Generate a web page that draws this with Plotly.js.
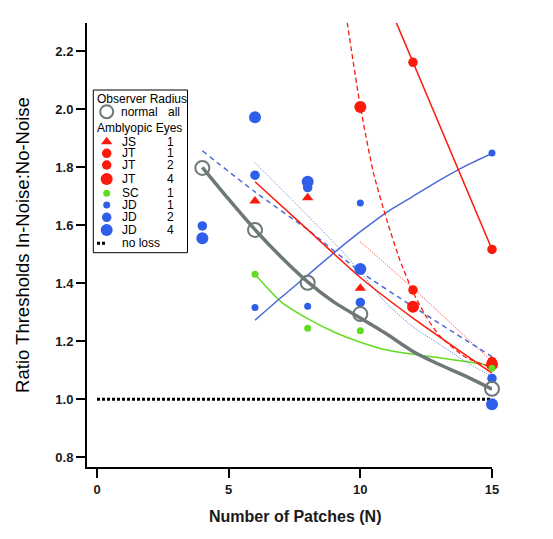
<!DOCTYPE html>
<html>
<head>
<meta charset="utf-8">
<script src="https://cdn.plot.ly/plotly-3.0.1.min.js"></script>
<style>
  html, body { margin: 0; padding: 0; background: #ffffff; }
  #chart { width: 553px; height: 539px; }
</style>
</head>
<body>
<div id="chart"></div>
<script>
// ---------- data ----------
const normalN = [4, 6, 8, 10, 15];
const normalRatio = [1.798, 1.584, 1.402, 1.294, 1.036];
const normalFitN = [4, 5, 6, 7, 8, 9, 10, 11, 12, 13, 14, 15];
const normalFitRatio = [1.80, 1.69, 1.585, 1.49, 1.405, 1.335, 1.28, 1.225, 1.165, 1.12, 1.08, 1.035];

const jsN = [6, 8, 10];
const jsRatio = [1.684, 1.695, 1.383];
const jsFitN = [6, 8, 10, 12, 15];
const jsFitRatio = [1.75, 1.585, 1.42, 1.28, 1.09];

const jt1N = [12, 15];
const jt1Ratio = [2.162, 1.517];
const jt1FitN = [11.3, 15];
const jt1FitRatio = [2.313, 1.517];

const jt2N = [12, 15];
const jt2Ratio = [1.377, 1.13];
const jt2FitN = [10, 12, 15];
const jt2FitRatio = [1.543, 1.383, 1.13];

const jt4N = [10, 12, 15];
const jt4Ratio = [2.008, 1.319, 1.12];
const jt4FitN = [9.5, 10, 10.5, 11, 11.5, 12, 12.5, 13, 14, 15];
const jt4FitRatio = [2.30, 2.01, 1.78, 1.62, 1.48, 1.37, 1.285, 1.22, 1.145, 1.11];

const scN = [6, 8, 10, 15];
const scRatio = [1.431, 1.245, 1.236, 1.107];
const scFitN = [6, 7, 8, 9, 10, 11, 12, 13, 14, 15];
const scFitRatio = [1.431, 1.335, 1.278, 1.232, 1.197, 1.17, 1.155, 1.143, 1.13, 1.115];

const jd1N = [6, 8, 10, 15];
const jd1Ratio = [1.317, 1.321, 1.677, 1.849];
const jd1FitN = [6, 7, 8, 9, 10, 11, 12, 13, 14, 15];
const jd1FitRatio = [1.273, 1.352, 1.428, 1.505, 1.578, 1.645, 1.70, 1.755, 1.805, 1.848];

const jd2N = [4, 6, 8, 10, 15];
const jd2Ratio = [1.598, 1.773, 1.73, 1.334, 1.072];
const jd2FitN = [4, 6, 8, 10, 12, 15];
const jd2FitRatio = [1.857, 1.715, 1.585, 1.44, 1.32, 1.147];

const jd4N = [4, 6, 8, 10, 15];
const jd4Ratio = [1.555, 1.973, 1.75, 1.449, 0.983];
const jd4FitN = [6, 8, 9, 10, 11, 12, 13, 14, 15];
const jd4FitRatio = [1.816, 1.633, 1.54, 1.44, 1.33, 1.25, 1.19, 1.13, 1.078];

const noLossN = [0, 15];
const noLossRatio = [1.0, 1.0];

const xTicks = [0, 5, 10, 15];
const yTicks = [0.8, 1.0, 1.2, 1.4, 1.6, 1.8, 2.0, 2.2];

const legendNames = ['JS', 'JT', 'JT', 'JT', 'SC', 'JD', 'JD', 'JD'];
const legendNums = ['1', '1', '2', '4', '1', '1', '2', '4'];

// ---------- styles ----------
const RED = '#fb1a0c';
const BLUE = '#2f5fe8';
const BLUE_LINE = '#4a6ad8';
const GREEN = '#62dc1e';
const GRAY = '#6f7878';
const FONT = 'Liberation Sans, Arial, Helvetica, sans-serif';

// marker styles for each amblyopic series, in legend order
const seriesStyle = [
  { x: jsN,  y: jsRatio,  color: RED,   size: 10, symbol: 'triangle-up' },
  { x: jt1N, y: jt1Ratio, color: RED,   size: 9.5, symbol: 'circle' },
  { x: jt2N, y: jt2Ratio, color: RED,   size: 9.5, symbol: 'circle' },
  { x: jt4N, y: jt4Ratio, color: RED,   size: 12, symbol: 'circle' },
  { x: scN,  y: scRatio,  color: GREEN, size: 7,  symbol: 'circle' },
  { x: jd1N, y: jd1Ratio, color: BLUE,  size: 7,  symbol: 'circle' },
  { x: jd2N, y: jd2Ratio, color: BLUE,  size: 9.5, symbol: 'circle' },
  { x: jd4N, y: jd4Ratio, color: BLUE,  size: 12, symbol: 'circle' }
];

const fitLines = [
  { x: scFitN,  y: scFitRatio,  color: GREEN,     width: 1.5, dash: 'solid' },
  { x: jd1FitN, y: jd1FitRatio, color: BLUE_LINE, width: 1.5, dash: 'solid' },
  { x: jd2FitN, y: jd2FitRatio, color: BLUE_LINE, width: 1.5, dash: '5px,4px' },
  { x: jd4FitN, y: jd4FitRatio, color: BLUE_LINE, width: 1,   dash: '1px,1.5px' },
  { x: jt2FitN, y: jt2FitRatio, color: RED,       width: 1,   dash: '1px,1.5px' },
  { x: jt4FitN, y: jt4FitRatio, color: RED,       width: 1.3, dash: '5px,3px' },
  { x: jt1FitN, y: jt1FitRatio, color: RED,       width: 1.5, dash: 'solid' },
  { x: jsFitN,  y: jsFitRatio,  color: RED,       width: 1.5, dash: 'solid' },
  { x: normalFitN, y: normalFitRatio, color: GRAY, width: 3.5, dash: 'solid' }
];

const traces = [];

// no loss reference line
traces.push({
  x: noLossN, y: noLossRatio, type: 'scatter', mode: 'lines',
  line: { color: '#000000', width: 3, dash: '3px,2px' }, hoverinfo: 'skip'
});

fitLines.forEach(f => traces.push({
  x: f.x, y: f.y, type: 'scatter', mode: 'lines',
  line: { color: f.color, width: f.width, dash: f.dash, shape: 'spline', smoothing: 0.6 },
  hoverinfo: 'skip'
}));

seriesStyle.forEach(s => traces.push({
  x: s.x, y: s.y, type: 'scatter', mode: 'markers', cliponaxis: false,
  marker: { color: s.color, size: s.size, symbol: s.symbol, opacity: 1, line: { width: 0 } }
}));

traces.push({
  x: normalN, y: normalRatio, type: 'scatter', mode: 'markers', cliponaxis: false,
  marker: { symbol: 'circle-open', size: 14, color: GRAY, opacity: 1, line: { color: GRAY, width: 2 } }
});

// ---------- custom legend (pixel-space overlay axes) ----------
const legRowY = [141.7, 153.3, 165, 179, 193.3, 205, 217.3, 230];
const legSymX = 106.7, legNameX = 121, legNumX = 170;

traces.push({
  x: legRowY.map(() => legSymX), y: legRowY,
  xaxis: 'x2', yaxis: 'y2', type: 'scatter', mode: 'markers', cliponaxis: false,
  marker: {
    color: seriesStyle.map(s => s.color),
    size: seriesStyle.map(s => s.size),
    symbol: seriesStyle.map(s => s.symbol),
    opacity: 1,
    line: { width: 0 }
  }, hoverinfo: 'skip'
});
traces.push({
  x: [legSymX], y: [111.7], xaxis: 'x2', yaxis: 'y2', type: 'scatter', mode: 'markers',
  cliponaxis: false,
  marker: { symbol: 'circle-open', size: 13, color: GRAY, opacity: 1, line: { color: GRAY, width: 2 } },
  hoverinfo: 'skip'
});

const legFont = { family: FONT, size: 12, color: '#000000' };
const annotations = [];
function legText(text, x, y, anchor) {
  annotations.push({ text: text, x: x, y: y, xref: 'x2', yref: 'y2',
    xanchor: anchor, yanchor: 'middle', showarrow: false, font: legFont, borderpad: 0 });
}
legText('Observer Radius', 96, 99, 'left');
legText('normal', 119.5, 111.7, 'left');
legText('all', 167, 111.7, 'left');
legText('Amblyopic Eyes', 96, 128.3, 'left');
legendNames.forEach((n, i) => {
  legText(n, legNameX, legRowY[i], 'left');
  legText(legendNums[i], legNumX, legRowY[i], 'center');
});
legText('no loss', legNameX, 243.3, 'left');

// x axis title, positioned as in the reference (paper coordinates)
annotations.push({
  text: 'Number of Patches (N)', x: (295 - 87) / 405, y: (467 - 516) / 444,
  xref: 'paper', yref: 'paper',
  xanchor: 'center', yanchor: 'middle', showarrow: false,
  font: { family: FONT, size: 16, color: '#1a1a1a', weight: 'bold' }
});

const shapes = [
  { type: 'rect', xref: 'x2', yref: 'y2', x0: 93.3, x1: 187.5, y0: 90, y1: 252.7,
    line: { color: '#000000', width: 1 }, fillcolor: 'rgba(255,255,255,0)' },
  { type: 'line', xref: 'x2', yref: 'y2', x0: 97, x1: 106, y0: 243.3, y1: 243.3,
    line: { color: '#000000', width: 3, dash: '3px,2px' } }
];

const layout = {
  width: 553, height: 539,
  margin: { l: 87, r: 61, t: 23, b: 72, pad: 0 },
  paper_bgcolor: '#ffffff', plot_bgcolor: '#ffffff',
  showlegend: false,
  font: { family: FONT, color: '#000000' },
  xaxis: {
    range: [-0.38, 15], tickvals: xTicks, ticktext: xTicks.map(String),
    showgrid: false, zeroline: false, showline: true, linecolor: '#000000', linewidth: 2,
    ticks: 'outside', ticklen: 9, tickwidth: 2, tickcolor: '#000000',
    tickfont: { family: FONT, size: 13, color: '#1a1a1a', weight: 'bold' },
    automargin: false, fixedrange: true
  },
  yaxis: {
    range: [0.7666, 2.2976], tickvals: yTicks, ticktext: yTicks.map(v => v.toFixed(1)),
    showgrid: false, zeroline: false, showline: true, linecolor: '#000000', linewidth: 2,
    ticks: 'outside', ticklen: 9, tickwidth: 2, tickcolor: '#000000',
    tickfont: { family: FONT, size: 13, color: '#1a1a1a', weight: 'bold' },
    title: { text: 'Ratio Thresholds In-Noise:No-Noise', standoff: 21,
      font: { family: FONT, size: 18.5, color: '#000000' } },
    automargin: false, fixedrange: true
  },
  xaxis2: { overlaying: 'x', anchor: 'y2', range: [87, 492], visible: false, fixedrange: true },
  yaxis2: { overlaying: 'y', anchor: 'x2', range: [467, 23], visible: false, fixedrange: true },
  annotations: annotations,
  shapes: shapes
};

Plotly.newPlot('chart', traces, layout, { displayModeBar: false, staticPlot: true });
</script>
</body>
</html>
